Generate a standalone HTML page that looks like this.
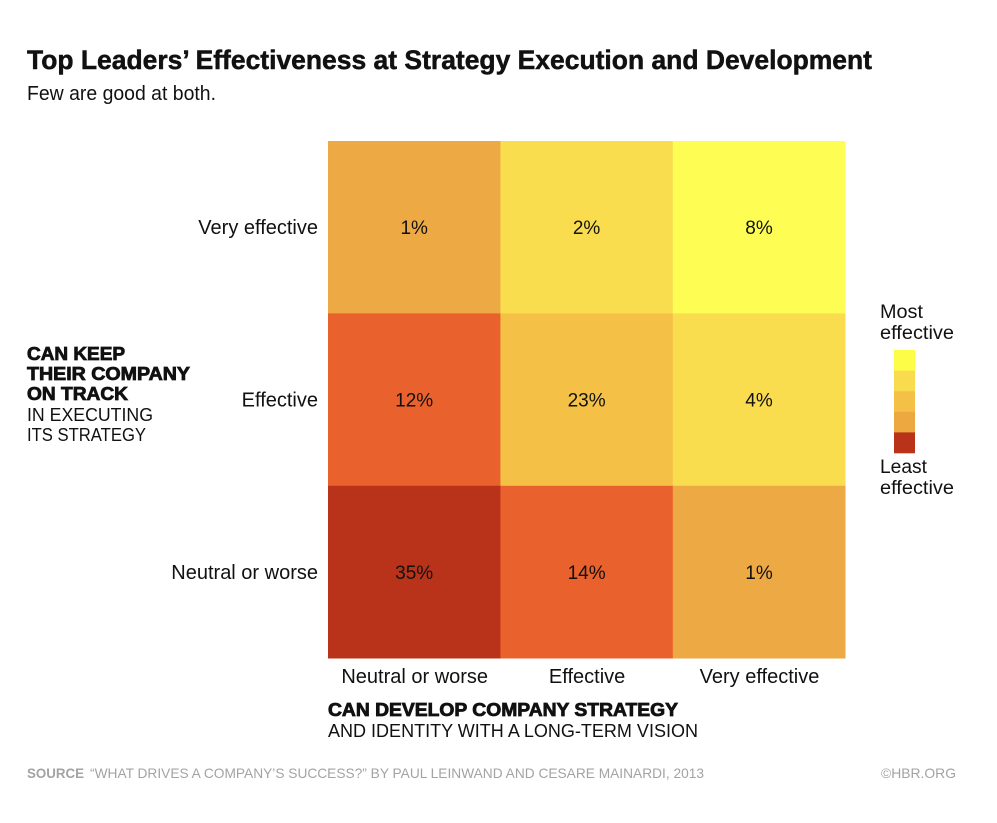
<!DOCTYPE html>
<html lang="en">
<head>
<meta charset="utf-8">
<title>Top Leaders' Effectiveness at Strategy Execution and Development</title>
<style>
html,body{margin:0;padding:0;background:#fff;}
svg{display:block;}
text{font-family:"Liberation Sans",sans-serif;fill:#111;}
.heavy{font-weight:bold;stroke:#111;stroke-width:.8px;}
.title{font-weight:bold;stroke:#111;stroke-width:.5px;}
.src{fill:#a3a3a3;}
</style>
</head>
<body>
<svg id="chart" width="997" height="823" viewBox="0 0 997 823" xmlns="http://www.w3.org/2000/svg">
  <rect width="997" height="823" fill="#fff"/>
  <text class="title" x="27" y="69" font-size="27" textLength="845" lengthAdjust="spacingAndGlyphs">Top Leaders’ Effectiveness at Strategy Execution and Development</text>
  <text x="27" y="100" font-size="20" textLength="189" lengthAdjust="spacingAndGlyphs">Few are good at both.</text>

  <g>
    <text class="heavy" x="27" y="360" font-size="18" textLength="98" lengthAdjust="spacingAndGlyphs">CAN KEEP</text>
    <text class="heavy" x="27" y="380" font-size="18" textLength="163" lengthAdjust="spacingAndGlyphs">THEIR COMPANY</text>
    <text class="heavy" x="27" y="400" font-size="18" textLength="101" lengthAdjust="spacingAndGlyphs">ON TRACK</text>
    <text x="27" y="421" font-size="18" textLength="126" lengthAdjust="spacingAndGlyphs">IN EXECUTING</text>
    <text x="27" y="441" font-size="18" textLength="119" lengthAdjust="spacingAndGlyphs">ITS STRATEGY</text>
  </g>

  <g id="cells"></g>
  <g id="yticks"></g>
  <g id="xticks"></g>

  <g>
    <text class="heavy" x="328" y="716" font-size="18" textLength="350" lengthAdjust="spacingAndGlyphs">CAN DEVELOP COMPANY STRATEGY</text>
    <text x="328" y="737" font-size="18" textLength="370" lengthAdjust="spacingAndGlyphs">AND IDENTITY WITH A LONG-TERM VISION</text>
  </g>

  <g id="legend">
    <text x="880" y="318" font-size="19" textLength="43" lengthAdjust="spacingAndGlyphs">Most</text>
    <text x="880" y="339" font-size="19" textLength="74" lengthAdjust="spacingAndGlyphs">effective</text>
    <text x="880" y="473" font-size="19" textLength="47" lengthAdjust="spacingAndGlyphs">Least</text>
    <text x="880" y="494" font-size="19" textLength="74" lengthAdjust="spacingAndGlyphs">effective</text>
  </g>

  <g>
    <text class="src" x="27" y="778" font-size="14" font-weight="bold" textLength="57" lengthAdjust="spacingAndGlyphs">SOURCE</text>
    <text class="src" x="90" y="778" font-size="14" textLength="614" lengthAdjust="spacingAndGlyphs">“WHAT DRIVES A COMPANY’S SUCCESS?” BY PAUL LEINWAND AND CESARE MAINARDI, 2013</text>
    <text class="src" x="881" y="778" font-size="14" textLength="75" lengthAdjust="spacingAndGlyphs">©HBR.ORG</text>
  </g>
</svg>
<script>
const xCategories = ["Neutral or worse", "Effective", "Very effective"];
const yCategories = ["Very effective", "Effective", "Neutral or worse"];
const rowVeryEffective = [1, 2, 8];
const rowEffective = [12, 23, 4];
const rowNeutral = [35, 14, 1];
const legendColors = ["#FDFD48", "#F9DC4E", "#F4C146", "#EDA840", "#B8331A"];

const NS = "http://www.w3.org/2000/svg";
const plotLeft = 328, plotTop = 141, bandW = 172.4, bandH = 172.4;
function xScale(i) { return plotLeft + i * bandW; }
function yScale(i) { return plotTop + i * bandH; }
function colorFor(v) {
  if (v >= 30) return "#B8331A";
  if (v >= 20) return "#F4C146";
  if (v >= 10) return "#E9612C";
  if (v >= 8) return "#FDFD54";
  if (v >= 2) return "#F9DD4F";
  return "#EDA944";
}
function make(tag, attrs, parent, txt) {
  const el = document.createElementNS(NS, tag);
  for (const k in attrs) el.setAttribute(k, attrs[k]);
  if (txt !== undefined) el.textContent = txt;
  parent.appendChild(el);
  return el;
}
const rows = [rowVeryEffective, rowEffective, rowNeutral];
const cells = document.getElementById("cells");
rows.forEach(function (row, r) {
  row.forEach(function (v, c) {
    const rect = make("rect", {x: xScale(c), y: yScale(r), width: bandW + 0.3, height: bandH + 0.3, fill: colorFor(v)}, cells);
    
    
    const label = make("text", {x: xScale(c) + bandW / 2, y: yScale(r) + 93, "font-size": 19, "text-anchor": "middle"}, cells, v + "%");
    
    
  });
});
const yticks = document.getElementById("yticks");
yCategories.forEach(function (t, r) {
  const el = make("text", {x: 318, y: yScale(r) + 93, "font-size": 20, "text-anchor": "end"}, yticks, t);
  
  
});
const xticks = document.getElementById("xticks");
xCategories.forEach(function (t, c) {
  const el = make("text", {x: xScale(c) + bandW / 2 + 0.5, y: 683, "font-size": 20, "text-anchor": "middle"}, xticks, t);
  
  
});
const legend = document.getElementById("legend");
legendColors.forEach(function (col, i) {
  const el = make("rect", {x: 894, y: 350 + i * 20.6, width: 21, height: 20.9, fill: col}, legend);
  
  
});
</script>
</body>
</html>
